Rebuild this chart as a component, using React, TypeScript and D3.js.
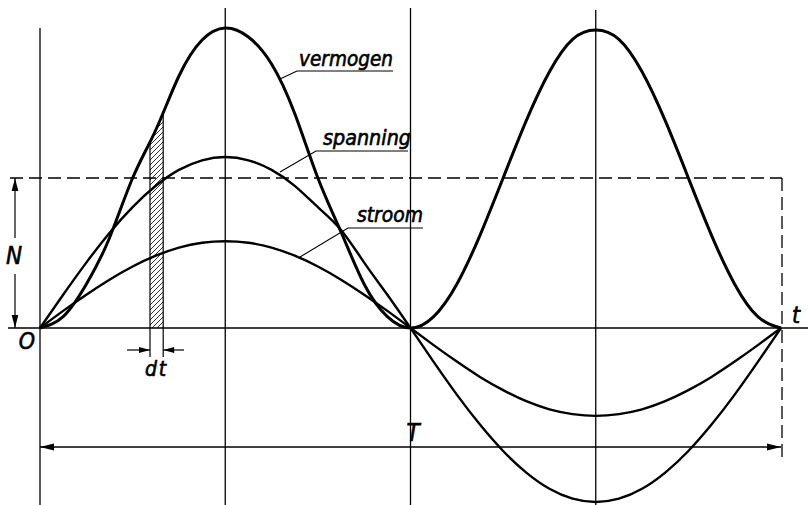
import React from "react";
import * as d3 from "d3";

// time in sixteenths of the period T (0..16), sampled every 0.5
const times: number[] = Array.from({ length: 33 }, (_, i) => i * 0.5);

// instantaneous power (vermogen), relative units, peak = 100
const vermogen: number[] = [
  0, 3.8, 14.6, 30, 50, 66, 84, 96, 100, 97, 88, 71.5, 50, 32, 14.6, 3.8, 0,
  3.8, 14.6, 30.9, 50, 69.1, 85.4, 96.2, 99.3, 96.2, 85.4, 69.1, 50, 30.9, 14.6, 3.8, 0,
];
// voltage (spanning)
const spanning: number[] = [
  0, 11.1, 21.8, 31.7, 40.3, 47.4, 52.7, 55.9, 57, 55.9, 52.7, 47.4, 40.3, 32.7, 21.8, 11.1, 0,
  -11.3, -22.2, -32.2, -41, -48.2, -53.6, -56.9, -58, -56.9, -53.6, -48.2, -41, -32.2, -22.2, -11.3, 0,
];
// current (stroom)
const stroom: number[] = [
  0, 5.7, 11.1, 16.1, 20.5, 24.1, 26.8, 28.4, 28.9, 28.4, 26.8, 24.1, 20.5, 16.1, 11.1, 5.7, 0,
  -5.7, -11.2, -16.3, -20.7, -24.4, -27.1, -28.7, -29.3, -28.7, -27.1, -24.4, -20.7, -16.3, -11.2, -5.7, 0,
];

const meanPower = 50; // N
const period = 16; // T
const stripStart = 2.375; // dt strip
const stripEnd = 2.66;
const gridTimes: number[] = [0, 4, 8, 12];

const labels = {
  vermogen: "vermogen",
  spanning: "spanning",
  stroom: "stroom",
  N: "N",
  O: "O",
  T: "T",
  t: "t",
  dt: "dt",
};

const W = 810;
const H = 505;

export default function App() {
  const x = d3.scaleLinear().domain([0, period]).range([40, 781]);
  const y = d3.scaleLinear().domain([0, 100]).range([328, 28]);

  const line = (vals: number[]) =>
    d3
      .line<number>()
      .x((_, i) => x(times[i]))
      .y((v) => y(v))
      .curve(d3.curveNatural)(vals) as string;

  const firstHalf = vermogen.slice(0, 17);
  const area = d3
    .area<number>()
    .x((_, i) => x(times[i]))
    .y0(y(0))
    .y1((v) => y(v))
    .curve(d3.curveNatural)(firstHalf) as string;

  const y0 = y(0);
  const yN = y(meanPower);
  const xEnd = x(period);
  const font = "'DejaVu Sans Condensed', 'DejaVu Sans', sans-serif";
  const textStroke = { stroke: "#000", strokeWidth: 0.6 };

  const arrowHead = (tx: number, ty: number, dir: "l" | "r" | "u" | "d", len = 12, hw = 3.2) => {
    let pts: [number, number][] = [];
    if (dir === "l") pts = [[tx, ty], [tx + len, ty - hw], [tx + len, ty + hw]];
    if (dir === "r") pts = [[tx, ty], [tx - len, ty - hw], [tx - len, ty + hw]];
    if (dir === "u") pts = [[tx, ty], [tx - hw, ty + len], [tx + hw, ty + len]];
    if (dir === "d") pts = [[tx, ty], [tx - hw, ty - len], [tx + hw, ty - len]];
    return <polygon points={pts.map((p) => p.join(",")).join(" ")} fill="#000" />;
  };

  const xs1 = x(stripStart);
  const xs2 = x(stripEnd);
  const gridTop = [28, 8, 8, 10];

  return (
    <svg
      width={W}
      height={H}
      style={{ position: "fixed", left: 0, top: 0, background: "#fff" }}
      viewBox={`0 0 ${W} ${H}`}
    >
      <defs>
        <pattern id="hatch" patternUnits="userSpaceOnUse" width="5" height="5">
          <path d="M-1,1 L1,-1 M0,5 L5,0 M4,6 L6,4" stroke="#000" strokeWidth="0.8" />
        </pattern>
        <clipPath id="under">
          <path d={area} />
        </clipPath>
        <clipPath id="edges">
          <path d={area} />
          <rect x={0} y={y0 - 1} width={W} height={30} />
        </clipPath>
      </defs>
      <rect width={W} height={H} fill="#fff" />

      {/* hatched strip dt */}
      <rect x={xs1} y={0} width={xs2 - xs1} height={y0} fill="url(#hatch)" clipPath="url(#under)" />
      <g clipPath="url(#edges)" stroke="#000" strokeWidth={1.2}>
        <line x1={xs1} x2={xs1} y1={0} y2={357} />
        <line x1={xs2} x2={xs2} y1={0} y2={357} />
      </g>
      <line x1={127} x2={xs1} y1={350} y2={350} stroke="#000" strokeWidth={1.2} />
      {arrowHead(xs1, 350, "r", 11, 3)}
      <line x1={xs2} x2={184} y1={350} y2={350} stroke="#000" strokeWidth={1.2} />
      {arrowHead(xs2, 350, "l", 11, 3)}
      <text x={(xs1 + xs2) / 2} y={376} fontFamily={font} fontStyle="italic" fontSize={21} letterSpacing={2} textAnchor="middle" {...textStroke}>
        {labels.dt}
      </text>

      {/* vertical grid lines */}
      {gridTimes.map((t, i) => (
        <line key={t} x1={x(t)} x2={x(t)} y1={gridTop[i]} y2={H} stroke="#000" strokeWidth={1.3} />
      ))}

      {/* time axis */}
      <line x1={8} x2={808} y1={y0} y2={y0} stroke="#000" strokeWidth={1.6} />

      {/* mean power dashed line */}
      <line x1={10} x2={xEnd + 1} y1={yN} y2={yN} stroke="#000" strokeWidth={1.3} strokeDasharray="13 6" />
      <line x1={xEnd + 1} x2={xEnd + 1} y1={yN} y2={457} stroke="#000" strokeWidth={1.3} strokeDasharray="13 6" />

      {/* N dimension */}
      <line x1={15} x2={15} y1={yN} y2={238} stroke="#000" strokeWidth={1.2} />
      <line x1={15} x2={15} y1={274} y2={y0} stroke="#000" strokeWidth={1.2} />
      {arrowHead(15, yN, "u", 13, 3.3)}
      {arrowHead(15, y0, "d", 13, 3.3)}
      <text x={14} y={264} fontFamily={font} fontStyle="italic" fontSize={24} textAnchor="middle" {...textStroke}>
        {labels.N}
      </text>

      {/* T dimension */}
      <line x1={x(0)} x2={xEnd} y1={447} y2={447} stroke="#000" strokeWidth={1.3} />
      {arrowHead(x(0), 447, "l", 14, 3.5)}
      {arrowHead(xEnd, 447, "r", 14, 3.5)}
      <text x={413} y={441} fontFamily={font} fontStyle="italic" fontSize={24} textAnchor="middle" {...textStroke}>
        {labels.T}
      </text>

      {/* curves */}
      <path d={line(stroom)} fill="none" stroke="#000" strokeWidth={2.4} />
      <path d={line(spanning)} fill="none" stroke="#000" strokeWidth={2.4} />
      <path d={line(vermogen)} fill="none" stroke="#000" strokeWidth={3} />

      {/* labels O and t */}
      <text x={27} y={349} fontFamily={font} fontStyle="italic" fontSize={23} textAnchor="middle" {...textStroke}>
        {labels.O}
      </text>
      <text x={796} y={323} fontFamily={font} fontStyle="italic" fontSize={23} textAnchor="middle" {...textStroke}>
        {labels.t}
      </text>

      {/* callouts */}
      <g stroke="#000" strokeWidth={1.1} fill="none">
        <polyline points="280,79 297,71 393,71" />
        <polyline points="280,172 316,151 408,151" />
        <polyline points="300,257 348,228 423,228" />
      </g>
      <g fontFamily={font} fontStyle="italic" fontSize={21} {...textStroke}>
        <text x={299} y={66} textLength={94} lengthAdjust="spacingAndGlyphs">{labels.vermogen}</text>
        <text x={323} y={145} textLength={88} lengthAdjust="spacingAndGlyphs">{labels.spanning}</text>
        <text x={357} y={222} textLength={66} lengthAdjust="spacingAndGlyphs">{labels.stroom}</text>
      </g>
    </svg>
  );
}
